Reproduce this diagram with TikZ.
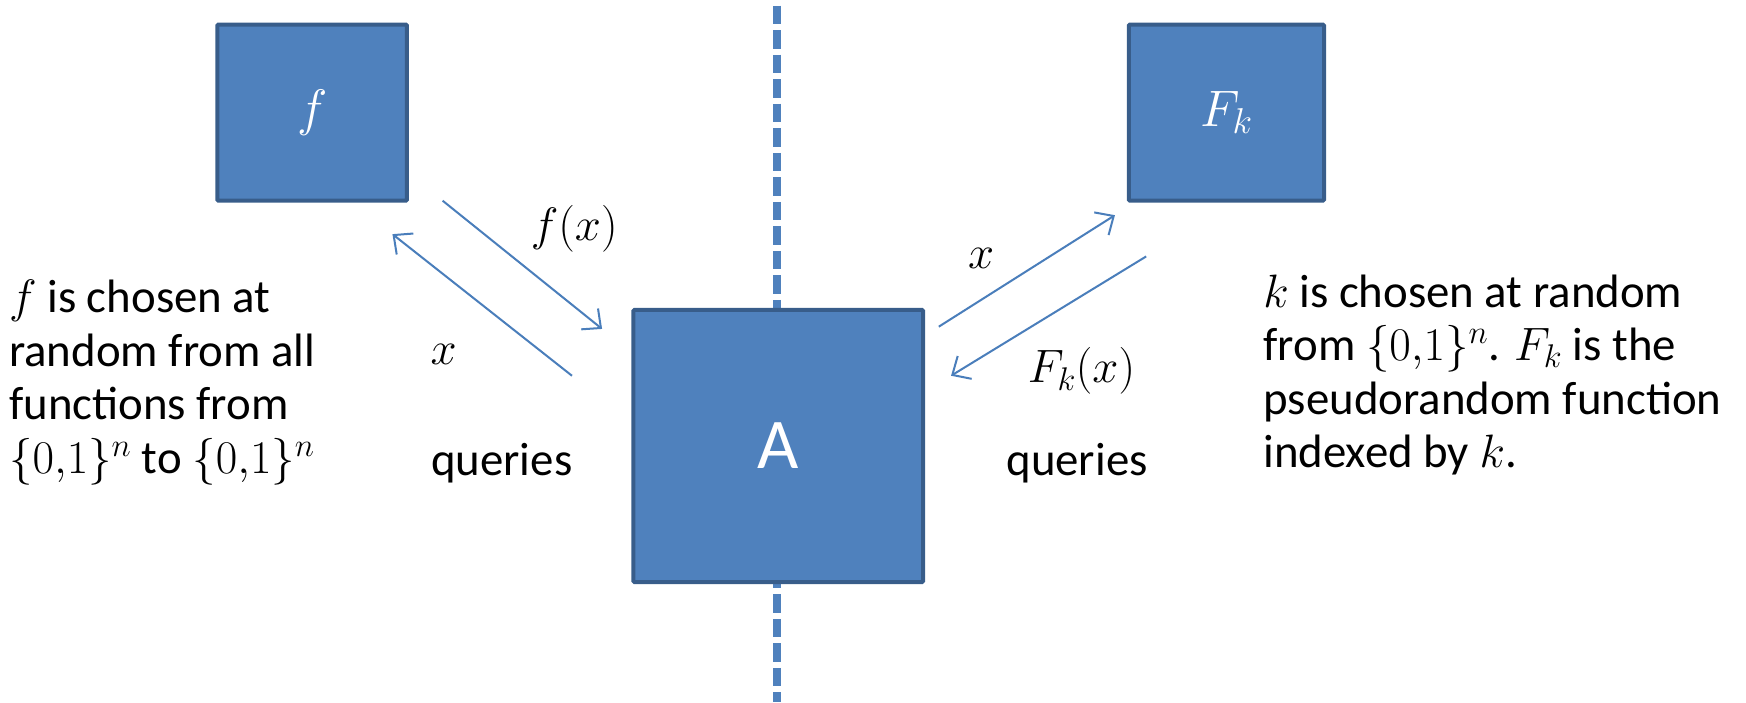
\RequirePackage{fix-cm}
\documentclass[tikz,border=0pt]{standalone}
\usepackage{fontspec}
\setmainfont{Carlito}
\usetikzlibrary{arrows.meta}
\definecolor{boxfill}{HTML}{4F81BD}
\definecolor{boxline}{HTML}{385D8A}
\definecolor{arrowc}{HTML}{4A7EBB}
\tikzset{
  bluebox/.style={draw=boxline, fill=boxfill, line width=3.6pt, inner sep=0pt, text=white, rounded corners=1pt},
  conn/.style={draw=arrowc, line width=1.8pt, -{Straight Barb[length=13pt,width=24pt,line width=1.8pt]}},
  lbl/.style={inner sep=0pt, font=\fontsize{42}{46}\selectfont},
  para/.style={inner sep=0pt, align=left, anchor=north west, font=\fontsize{42}{48}\selectfont},
}
\begin{document}
\begin{tikzpicture}[x=1pt,y=-1pt]
\useasboundingbox (0,0) rectangle (1566,630);
% dashed divider
\draw[draw=boxfill, line width=7pt, dash pattern=on 16.5pt off 5.5pt] (697,5) coordinate (dtop) -- (697,630) coordinate (dbot);
% boxes
\node[bluebox, minimum width=170pt, minimum height=158pt] (f) at (280,101) {\fontsize{46}{50}\selectfont$f$};
\node[bluebox, minimum width=175pt, minimum height=158pt] (F) at (1100,101) {\fontsize{46}{50}\selectfont$F_k$};
\node[bluebox, minimum width=260pt, minimum height=244pt] (A) at (698,400) {\fontsize{64}{70}\selectfont A};
% connector endpoints
\coordinate (a1s) at (397,180); \coordinate (a1e) at (540,295);
\coordinate (a2s) at (513,337); \coordinate (a2e) at (352,210);
\coordinate (a3s) at (842,293); \coordinate (a3e) at (1000,193);
\coordinate (a4s) at (1028,230); \coordinate (a4e) at (853,337);
\draw[conn] (a1s) -- (a1e);
\draw[conn] (a2s) -- (a2e);
\draw[conn] (a3s) -- (a3e);
\draw[conn] (a4s) -- (a4e);
% labels
\node[lbl] (l1) at (515,205) {$f(x)$};
\node[lbl] (l2) at (398,318) {$x$};
\node[lbl] (l3) at (880,232) {$x$};
\node[lbl] (l4) at (970,333) {$F_k(x)$};
\node[lbl] (q1) at (450,415) {queries};
\node[lbl] (q2) at (966,415) {queries};
% paragraphs
\node[para] (tl) at (8,251) {$f$ is chosen at\\random from all\\functions from\\$\{0{,}1\}^n$ to $\{0{,}1\}^n$};
\node[para] (tr) at (1133,246) {$k$ is chosen at random\\from $\{0{,}1\}^n$. $F_k$ is the\\pseudorandom function\\indexed by $k$.};
\end{tikzpicture}
\end{document}
